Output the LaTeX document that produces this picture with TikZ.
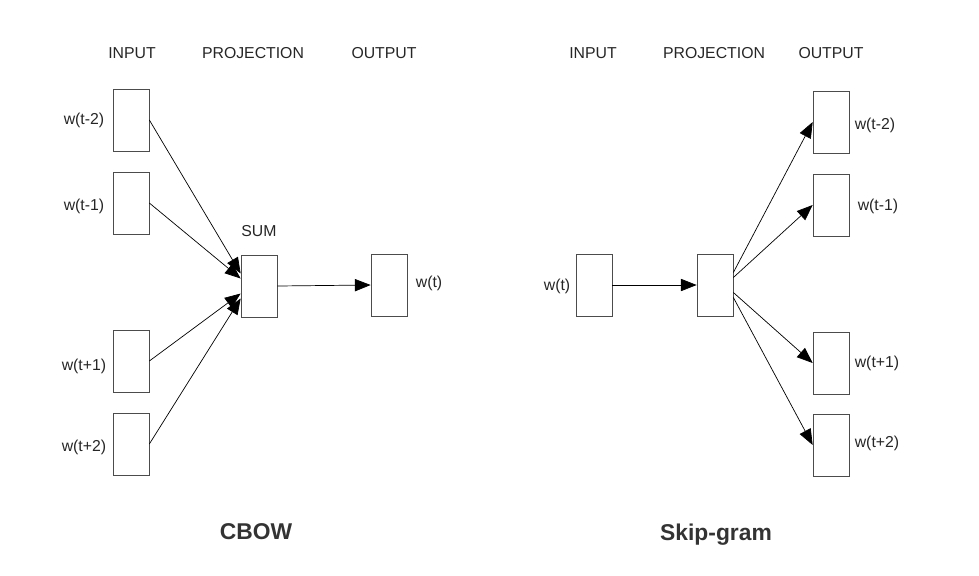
\documentclass[tikz,border=0pt]{standalone}
\usepackage{fontspec}
\setmainfont{Liberation Sans}
\usetikzlibrary{arrows.meta}

\begin{document}
\begin{tikzpicture}[x=0.02cm,y=-0.02cm,>={Triangle[length=9pt,width=7pt]},
    box/.style={draw=black!70,minimum width=0.72cm,minimum height=1.24cm,inner sep=0pt},
    lbl/.style={font=\fontsize{9}{10}\selectfont,text=black!85},
    title/.style={font=\fontsize{13}{14}\selectfont\bfseries,text=black!80}]
          \useasboundingbox (0,0) rectangle (979,575);

          % CBOW
          \node[lbl] at (132,53) {INPUT};
          \node[lbl] at (253,53) {PROJECTION};
          \node[lbl] at (384,53) {OUTPUT};

          \node[box] (c1) at (131,120) {};
          \node[box] (c2) at (131,203) {};
          \node[box] (c3) at (131,361) {};
          \node[box] (c4) at (131,444) {};
          \node[box] (sum) at (259,286) {};
          \node[box] (cout) at (389,285) {};

          \node[lbl] at (84,120) {w(t-2)};
          \node[lbl] at (84,206) {w(t-1)};
          \node[lbl] at (84,366) {w(t+1)};
          \node[lbl] at (84,447) {w(t+2)};
          \node[lbl] at (259,231) {SUM};
          \node[lbl] at (429,283) {w(t)};

          \draw[->] (c1.east) -- ([yshift=0.25cm]sum.west);
          \draw[->] (c2.east) -- ([yshift=0.15cm]sum.west);
          \draw[->] (c3.east) -- ([yshift=-0.15cm]sum.west);
          \draw[->] (c4.east) -- ([yshift=-0.25cm]sum.west);
          \draw[->] (sum.east) -- (cout.west);

          \node[title] at (256,532) {CBOW};

          % Skip-gram
          \node[lbl] at (593,53) {INPUT};
          \node[lbl] at (714,53) {PROJECTION};
          \node[lbl] at (831,53) {OUTPUT};

          \node[box] (sin) at (594,285) {};
          \node[box] (proj) at (715,285) {};
          \node[box] (s1) at (831,122) {};
          \node[box] (s2) at (831,205) {};
          \node[box] (s3) at (831,363) {};
          \node[box] (s4) at (831,445) {};

          \node[lbl] at (557,286) {w(t)};
          \node[lbl] at (875,125) {w(t-2)};
          \node[lbl] at (878,206) {w(t-1)};
          \node[lbl] at (877,363) {w(t+1)};
          \node[lbl] at (877,443) {w(t+2)};

          \draw[->] (sin.east) -- (proj.west);
          \draw[->] ([yshift=0.25cm]proj.east) -- (s1.west);
          \draw[->] ([yshift=0.15cm]proj.east) -- (s2.west);
          \draw[->] ([yshift=-0.15cm]proj.east) -- (s3.west);
          \draw[->] ([yshift=-0.25cm]proj.east) -- (s4.west);

          \node[title] at (716,535) {Skip-gram};
        \end{tikzpicture}
\end{document}
